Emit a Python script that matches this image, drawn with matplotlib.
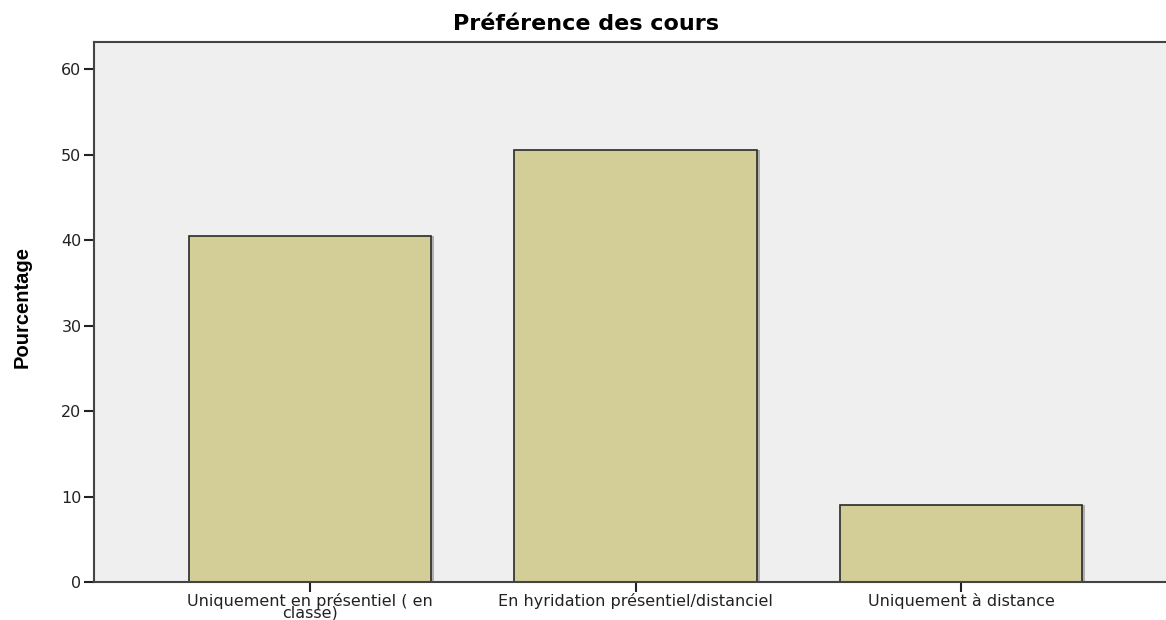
import matplotlib
matplotlib.use("Agg")
import matplotlib.pyplot as plt

categories = ["Uniquement en présentiel ( en\nclasse)",
              "En hyridation présentiel/distanciel",
              "Uniquement à distance"]
pourcentages = [40.5, 50.5, 9.0]
yticks = [0, 10, 20, 30, 40, 50, 60]

plt.rcParams["font.family"] = ["DejaVu Sans"]

fig = plt.figure(figsize=(11.66, 6.2), dpi=100)
ax = fig.add_axes([0.0806, 0.0613, 0.9194, 0.8710])
ax.set_facecolor("#efefef")

x = range(len(categories))
# shadow then bars
ax.bar([i + 0.008 for i in x], pourcentages, width=0.746, color="#b0b0b0", zorder=1)
ax.bar(x, pourcentages, width=0.746, color="#d3cd97", edgecolor="#2a2a2a",
       linewidth=1.2, zorder=2)

ax.set_xlim(-0.664, 2.63)
ax.set_ylim(0, 63.2)
ax.set_yticks(yticks)
ax.set_xticks(list(x))
ax.set_xticklabels(categories, fontsize=11.5, linespacing=0.72)
ax.tick_params(axis="y", labelsize=11.5, length=7, width=1.5, colors="#222222", pad=2)
ax.tick_params(axis="x", length=7, width=1.5, colors="#222222", pad=1)

for s in ["top", "left", "bottom"]:
    ax.spines[s].set_color("#444444")
    ax.spines[s].set_linewidth(1.5)
ax.spines["right"].set_visible(False)

fig.text(0.019, 0.505, "Pourcentage", rotation=90, ha="center", va="center",
         fontsize=14.5, fontweight="bold", family="Liberation Sans")
fig.text(0.503, 0.962, "Préférence des cours", ha="center", va="center",
         fontsize=16, fontweight="bold")

fig.savefig("out.png", dpi=100)
